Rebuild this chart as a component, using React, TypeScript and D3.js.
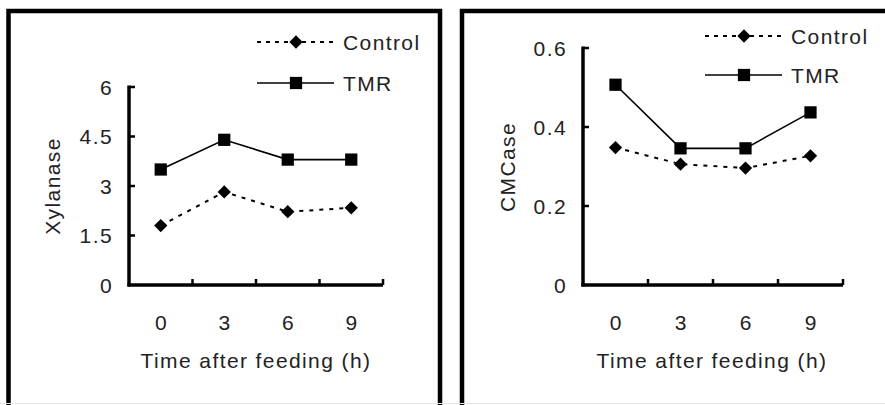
import React from "react";
import * as d3 from "d3";

const times = ["0", "3", "6", "9"];
const xylControl = [1.8, 2.82, 2.22, 2.34];
const xylTMR = [3.5, 4.4, 3.8, 3.8];
const xylTicks = [0, 1.5, 3, 4.5, 6];
const cmcControl = [0.348, 0.306, 0.296, 0.327];
const cmcTMR = [0.507, 0.346, 0.346, 0.437];
const cmcTicks = [0, 0.2, 0.4, 0.6];
const seriesNames = ["Control", "TMR"];

const FONT = "'Liberation Sans', Arial, sans-serif";
const LS = 1.4;
const FS = 21;

type PanelProps = {
  frameX: number;
  frameW: number;
  x0: number;
  x1: number;
  yTop: number;
  yBottom: number;
  yMax: number;
  ticks: number[];
  tickFmt: (v: number) => string;
  control: number[];
  tmr: number[];
  yLabel: string;
  yLabelX: number;
  yLabelY: number;
  titleX: number;
  legX: number;
  legY1: number;
  legY2: number;
};

function Panel(p: PanelProps) {
  const x = d3.scaleBand<string>().domain(times).range([p.x0, p.x1]).padding(0);
  const y = d3.scaleLinear().domain([0, p.yMax]).range([p.yBottom, p.yTop]);
  const cx = (i: number) => (x(times[i]) as number) + x.bandwidth() / 2;
  const line = d3
    .line<number>()
    .x((_, i) => cx(i))
    .y((d) => y(d));
  const sq = d3.symbol().type(d3.symbolSquare).size(150)() as string;
  const dia = d3.symbol().type(d3.symbolSquare).size(88)() as string;
  const boundaries = times.map((t) => (x(t) as number) + x.bandwidth());
  const legLineX0 = p.legX;
  const legLineX1 = p.legX + 77;
  const legMid = p.legX + 39;
  const txt = { fontFamily: FONT, fontSize: FS, letterSpacing: LS, fill: "#222" };
  return (
    <g>
      <rect
        x={p.frameX}
        y={11}
        width={p.frameW}
        height={420}
        fill="none"
        stroke="#000"
        strokeWidth={4.5}
      />
      <line x1={p.x0} x2={p.x0} y1={y(p.yMax) - 1.5} y2={p.yBottom + 1.5} stroke="#000" strokeWidth={3.5} />
      <line x1={p.x0 - 1.5} x2={p.x1} y1={p.yBottom} y2={p.yBottom} stroke="#000" strokeWidth={3.5} />
      {p.ticks.map((t) => (
        <g key={"yt" + t}>
          {t > 0 && (
            <line x1={p.x0} x2={p.x0 + 6} y1={y(t)} y2={y(t)} stroke="#000" strokeWidth={2.5} />
          )}
          <text x={p.x0 - 16} y={y(t)} dy="0.36em" textAnchor="end" {...txt}>
            {p.tickFmt(t)}
          </text>
        </g>
      ))}
      {boundaries.map((b, i) => (
        <line key={"xt" + i} x1={b} x2={b} y1={p.yBottom} y2={p.yBottom - 6} stroke="#000" strokeWidth={2.5} />
      ))}
      {times.map((t, i) => (
        <text key={"xl" + t} x={cx(i) + LS / 2} y={330} textAnchor="middle" {...txt}>
          {t}
        </text>
      ))}
      <text x={p.titleX} y={368} textAnchor="middle" {...txt}>
        Time after feeding (h)
      </text>
      <text
        transform={`translate(${p.yLabelX},${p.yLabelY}) rotate(-90)`}
        textAnchor="middle"
        dy="0.36em"
        {...txt}
      >
        {p.yLabel}
      </text>
      <path d={line(p.control) as string} fill="none" stroke="#000" strokeWidth={2} strokeDasharray="4,6" />
      <path d={line(p.tmr) as string} fill="none" stroke="#000" strokeWidth={1.6} />
      {p.control.map((v, i) => (
        <path key={"c" + i} d={dia} transform={`translate(${cx(i)},${y(v)}) rotate(45)`} fill="#000" />
      ))}
      {p.tmr.map((v, i) => (
        <path key={"t" + i} d={sq} transform={`translate(${cx(i)},${y(v)})`} fill="#000" />
      ))}
      <line x1={legLineX0} x2={legLineX1} y1={p.legY1} y2={p.legY1} stroke="#000" strokeWidth={2} strokeDasharray="4,5" />
      <path d={dia} transform={`translate(${legMid},${p.legY1}) rotate(45)`} fill="#000" />
      <text x={legLineX1 + 9} y={p.legY1} dy="0.36em" {...txt}>
        {seriesNames[0]}
      </text>
      <line x1={legLineX0} x2={legLineX1} y1={p.legY2} y2={p.legY2} stroke="#000" strokeWidth={1.6} />
      <path d={sq} transform={`translate(${legMid},${p.legY2})`} fill="#000" />
      <text x={legLineX1 + 9} y={p.legY2} dy="0.36em" {...txt}>
        {seriesNames[1]}
      </text>
    </g>
  );
}

export default function App() {
  return (
    <svg
      width={885}
      height={405}
      style={{ position: "absolute", left: 0, top: 0, background: "#fff" }}
    >
      <rect x={0} y={0} width={885} height={405} fill="#fff" />
      <Panel
        frameX={8.5}
        frameW={431.5}
        x0={129}
        x1={383}
        yTop={87}
        yBottom={285}
        yMax={6}
        ticks={xylTicks}
        tickFmt={(v) => String(v)}
        control={xylControl}
        tmr={xylTMR}
        yLabel="Xylanase"
        yLabelX={52}
        yLabelY={186}
        titleX={256}
        legX={257}
        legY1={42}
        legY2={83}
      />
      <Panel
        frameX={462}
        frameW={440}
        x0={583}
        x1={843}
        yTop={48}
        yBottom={285}
        yMax={0.6}
        ticks={cmcTicks}
        tickFmt={(v) => (v === 0 ? "0" : d3.format(".1f")(v))}
        control={cmcControl}
        tmr={cmcTMR}
        yLabel="CMCase"
        yLabelX={507}
        yLabelY={167}
        titleX={712}
        legX={705}
        legY1={36}
        legY2={75}
      />
      <line x1={0} x2={885} y1={403.5} y2={403.5} stroke="#e4e4e4" strokeWidth={1} />
    </svg>
  );
}
